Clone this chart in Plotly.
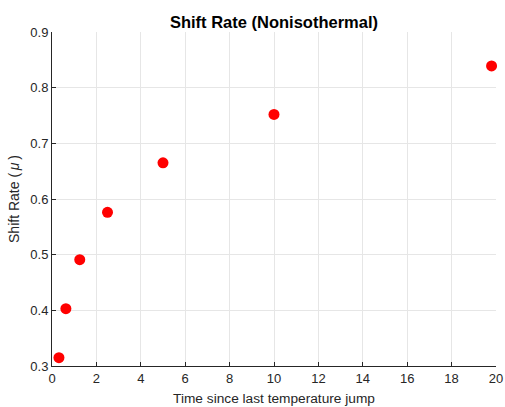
import plotly.graph_objects as go

time_values = [0.3125, 0.625, 1.25, 2.5, 5, 10, 19.8]
shift_rate = [0.315, 0.403, 0.491, 0.576, 0.665, 0.752, 0.839]
x_ticks = [0, 2, 4, 6, 8, 10, 12, 14, 16, 18, 20]
y_ticks = [0.3, 0.4, 0.5, 0.6, 0.7, 0.8, 0.9]

FONT = "Liberation Sans, Arial, Helvetica"

fig = go.Figure()
fig.add_trace(go.Scatter(x=time_values, y=shift_rate, mode="markers",
                         marker=dict(color="#ff0000", size=11, line=dict(width=0)),
                         cliponaxis=False))

axis_common = dict(showline=True, linecolor="#262626", linewidth=1,
                   showgrid=True, gridcolor="#e6e6e6", gridwidth=1,
                   ticks="inside", ticklen=4, tickcolor="#262626",
                   zeroline=False, mirror=False, automargin=False,
                   tickfont=dict(family=FONT, size=13, color="#262626"))

fig.update_layout(
    width=505, height=407,
    autosize=False,
    paper_bgcolor="white", plot_bgcolor="white",
    margin=dict(l=52, r=9, t=32, b=41, autoexpand=False),
    showlegend=False,
    title=dict(text="<b>Shift Rate (Nonisothermal)</b>", x=0.5, xref="paper",
               y=1, yref="paper", yanchor="bottom", pad=dict(b=4),
               font=dict(family=FONT, size=16.5, color="black")),
    xaxis=dict(range=[0, 20], tickvals=x_ticks, ticktext=[str(t) for t in x_ticks],
               title=dict(text="Time since last temperature jump", standoff=8,
                          font=dict(family=FONT, size=13.7, color="#262626")),
               **axis_common),
    yaxis=dict(range=[0.3, 0.9], tickvals=y_ticks, ticktext=[f"{t:.1f}" for t in y_ticks],
               title=dict(text="Shift Rate (\u2009<i>μ</i>\u2009)", standoff=7,
                          font=dict(family=FONT, size=14, color="#262626")),
               **axis_common),
)

fig.write_html("out.html")
